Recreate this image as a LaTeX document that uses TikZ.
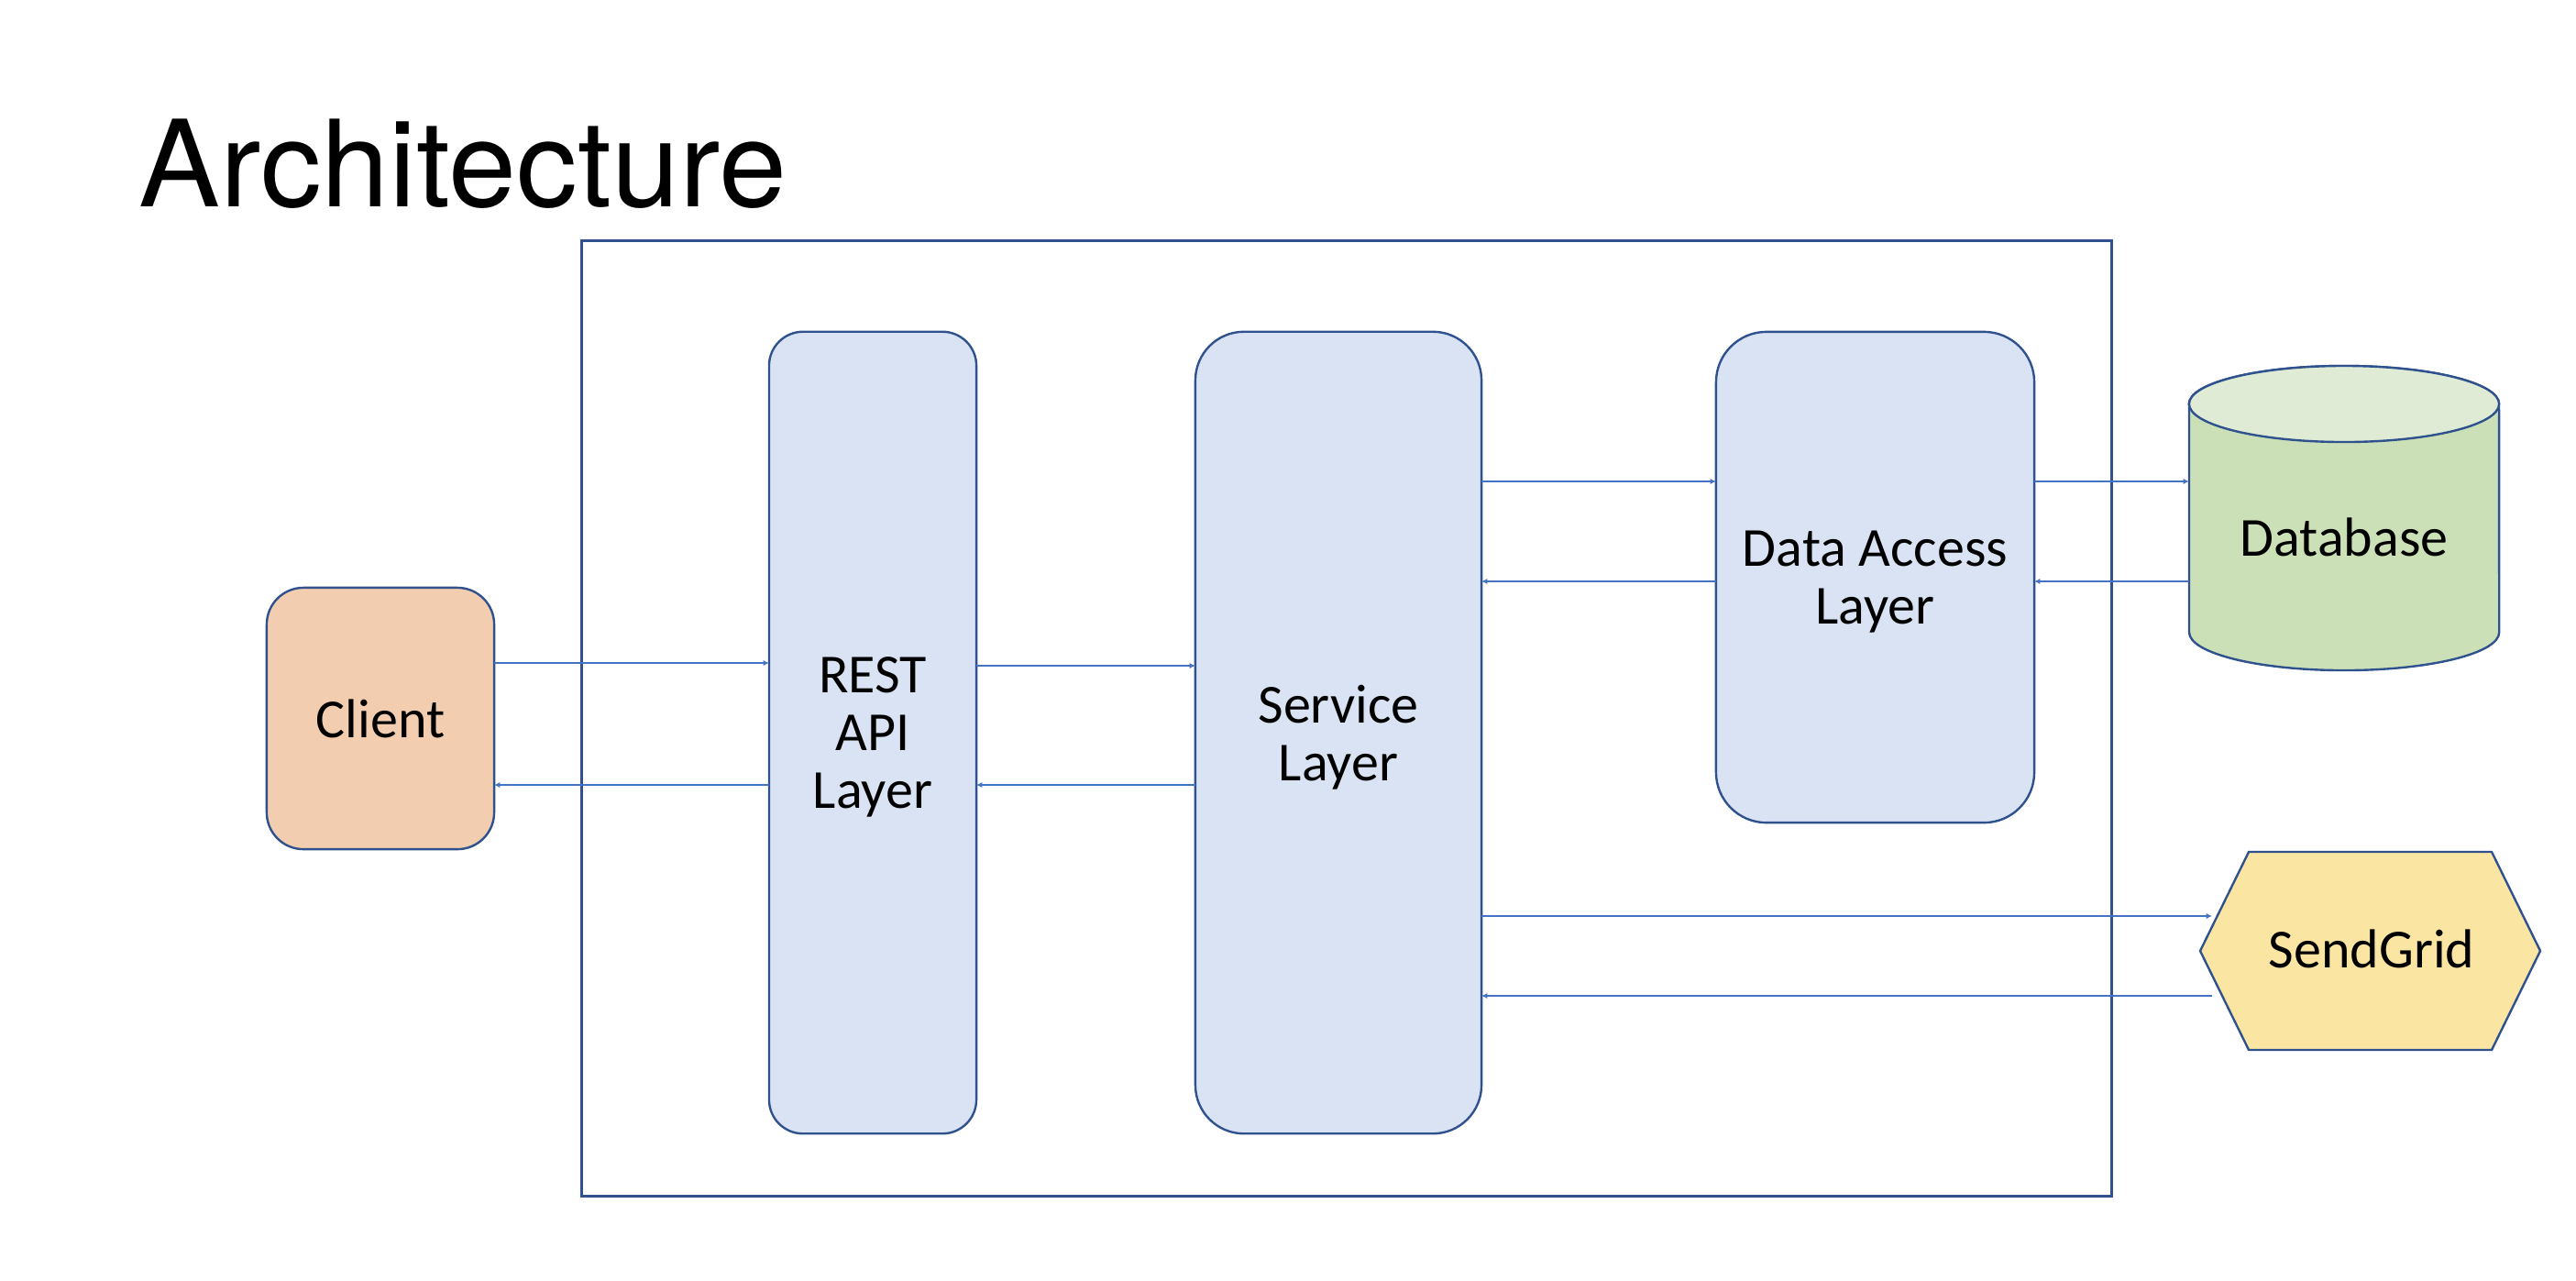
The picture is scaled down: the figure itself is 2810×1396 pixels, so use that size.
\documentclass[tikz,border=0pt]{standalone}
\usepackage{fontspec}
\setmainfont{Carlito}
\newfontfamily\titlefont{TeX Gyre Heros}[FakeStretch=1.015]
\usetikzlibrary{arrows.meta}
\definecolor{bordc}{HTML}{2F528F}
\definecolor{arrowc}{HTML}{4472C4}
\definecolor{layerfill}{HTML}{DAE3F3}
\definecolor{clientfill}{HTML}{F2CDB0}
\definecolor{dbbody}{HTML}{CCE0B8}
\definecolor{dbtop}{HTML}{DFEBD5}
\definecolor{sgfill}{HTML}{FBE5A2}
\tikzset{
  border/.style={draw=bordc, line width=0.68pt},
  boxtext/.style={font=\fontsize{17.07}{17.9}\selectfont, align=center, text=black},
  layerbox/.style={border, fill=layerfill, inner sep=0pt, outer sep=0pt, boxtext, text depth=0pt},
  arr/.style={draw=arrowc, line width=0.4pt, -{Latex[length=1.8pt,width=1.8pt]}},
}
\begin{document}
\begin{tikzpicture}[x=0.01cm, y=-0.01cm]
\useasboundingbox (0,0) rectangle (2810,1396);
% title
\node[anchor=base west, inner sep=0pt, font=\titlefont\fontsize{37.3}{40}\selectfont] (title) at (151,225) {Architecture};
% outer frame
\node[draw=bordc, line width=0.75pt, inner sep=0pt, minimum width=16.68cm, minimum height=10.41cm] (frame) at (1469,783.5) {};
% boxes
\node[layerbox, fill=clientfill, rounded corners=0.4cm, minimum width=2.48cm, minimum height=2.85cm] (client) at (415,783.5) {Client};
\node[layerbox, rounded corners=0.37cm, minimum width=2.26cm, minimum height=8.74cm] (rest) at (952,799) {REST\\API\\Layer};
\node[layerbox, rounded corners=0.53cm, minimum width=3.12cm, minimum height=8.74cm] (service) at (1460,799) {Service\\Layer};
\node[layerbox, rounded corners=0.55cm, minimum width=3.47cm, minimum height=5.35cm] (dal) at (2045.5,629.5) {Data Access\\Layer};
% database cylinder
\draw[border, fill=dbbody] (2388,440.5) -- (2388,689.5)
  arc[start angle=180, end angle=360, x radius=1.69cm, y radius=0.415cm]
  -- (2726,440.5)
  arc[start angle=0, end angle=180, x radius=1.69cm, y radius=0.415cm] -- cycle;
\draw[border, fill=dbtop] (2557,440.5) ellipse[x radius=1.69cm, y radius=0.415cm];
\node[inner sep=0pt, outer sep=0pt, minimum width=3.38cm, minimum height=3.32cm] (db) at (2557,565) {};
\node[boxtext, anchor=base, inner sep=0pt] (dblabel) at (2557,606) {Database};
% sendgrid hexagon
\draw[border, fill=sgfill] (2400,1037) -- (2453,929) -- (2718,929) -- (2771,1037) -- (2718,1145) -- (2453,1145) -- cycle;
\node[boxtext, anchor=base, inner sep=0pt] (sg) at (2587,1055) {SendGrid};
\coordinate (sgin) at (2413,999);
\coordinate (sgout) at (2413,1086);
% connectors
\draw[arr] (client.east |- 0,723) -- (rest.west |- 0,723);
\draw[arr] (rest.west |- 0,856) -- (client.east |- 0,856);
\draw[arr] (rest.east |- 0,726) -- (service.west |- 0,726);
\draw[arr] (service.west |- 0,856) -- (rest.east |- 0,856);
\draw[arr] (service.east |- 0,525) -- (dal.west |- 0,525);
\draw[arr] (dal.west |- 0,634) -- (service.east |- 0,634);
\draw[arr] (dal.east |- 0,525) -- (db.west |- 0,525);
\draw[arr] (db.west |- 0,634) -- (dal.east |- 0,634);
\draw[arr] (service.east |- sgin) -- (sgin);
\draw[arr] (sgout) -- (service.east |- sgout);
\end{tikzpicture}
\end{document}
